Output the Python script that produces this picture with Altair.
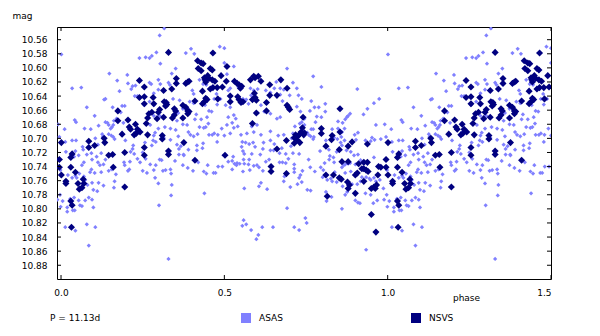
import altair as alt
import pandas as pd

# ---- data (phase in [0, 1); chart shows 1.5 cycles) ----
asas_points = [
(0.001,10.581),(0.034,10.629),(0.062,10.628),(0.240,10.586),(0.148,10.608),(0.203,10.610),(0.172,10.618),(0.205,10.622),(0.179,10.633),(0.219,10.626),
(0.228,10.625),(0.215,10.630),(0.234,10.640),(0.226,10.640),(0.242,10.642),(0.136,10.644),(0.132,10.645),(0.079,10.656),(0.103,10.668),(0.158,10.656),
(0.187,10.654),(0.195,10.654),(0.183,10.663),(0.042,10.674),(0.046,10.677),(0.072,10.686),(0.091,10.687),(0.115,10.682),(0.136,10.677),(0.142,10.678),
(0.146,10.681),(0.162,10.675),(0.160,10.681),(0.156,10.684),(0.152,10.686),(0.170,10.672),(0.011,10.687),(0.013,10.705),(0.034,10.703),(0.046,10.703),
(0.066,10.712),(0.068,10.716),(0.105,10.700),(0.113,10.709),(0.126,10.694),(0.128,10.698),(0.146,10.694),(0.154,10.696),(0.160,10.698),(0.164,10.701),
(0.191,10.678),(0.197,10.703),(0.228,10.691),(0.221,10.710),(0.219,10.715),(0.213,10.719),(0.224,10.722),(0.234,10.729),(0.250,10.720),(0.015,10.719),
(0.044,10.718),(0.040,10.726),(0.054,10.724),(0.070,10.734),(0.064,10.738),(0.079,10.723),(0.093,10.721),(0.095,10.730),(0.109,10.726),(0.113,10.734),
(0.119,10.738),(0.130,10.737),(0.136,10.730),(0.123,10.721),(0.093,10.744),(0.089,10.748),(0.103,10.749),(0.123,10.748),(0.146,10.746),(0.156,10.744),
(0.168,10.751),(0.193,10.734),(0.195,10.738),(0.211,10.733),(0.205,10.746),(0.209,10.744),(0.242,10.734),(0.250,10.746),(0.021,10.752),(0.034,10.756),
(0.044,10.753),(0.048,10.756),(0.056,10.750),(0.070,10.754),(0.074,10.759),(0.081,10.766),(0.095,10.763),(0.099,10.773),(0.111,10.775),(0.115,10.763),
(0.130,10.767),(0.164,10.761),(0.162,10.770),(0.005,10.789),(0.019,10.798),(0.028,10.786),(0.040,10.784),(0.054,10.788),(0.058,10.795),(0.064,10.796),
(0.074,10.788),(0.085,10.784),(0.095,10.787),(0.099,10.798),(0.036,10.802),(0.042,10.802),(0.019,10.804),(0.013,10.826),(0.044,10.831),(0.079,10.822),
(0.105,10.826),(0.085,10.852),
(0.316,10.544),(0.302,10.554),(0.486,10.570),(0.398,10.573),(0.382,10.579),(0.408,10.580),(0.292,10.578),(0.259,10.585),(0.271,10.586),(0.278,10.583),
(0.304,10.594),(0.351,10.601),(0.339,10.608),(0.329,10.621),(0.333,10.624),(0.298,10.617),(0.304,10.623),(0.271,10.621),(0.276,10.623),(0.298,10.631),
(0.284,10.636),(0.343,10.644),(0.363,10.646),(0.402,10.632),(0.406,10.637),(0.424,10.617),(0.435,10.623),(0.445,10.624),(0.469,10.644),(0.476,10.637),
(0.255,10.653),(0.271,10.648),(0.284,10.653),(0.359,10.664),(0.351,10.665),(0.373,10.658),(0.406,10.650),(0.414,10.666),(0.410,10.673),(0.429,10.673),
(0.447,10.670),(0.453,10.661),(0.461,10.662),(0.478,10.652),(0.488,10.644),(0.441,10.653),(0.492,10.686),(0.294,10.672),(0.302,10.668),(0.284,10.668),
(0.273,10.681),(0.259,10.679),(0.288,10.692),(0.298,10.686),(0.284,10.696),(0.318,10.684),(0.335,10.686),(0.351,10.688),(0.355,10.675),(0.373,10.680),
(0.386,10.681),(0.396,10.695),(0.406,10.697),(0.418,10.694),(0.416,10.710),(0.433,10.714),(0.435,10.707),(0.424,10.684),(0.437,10.685),(0.443,10.684),
(0.451,10.679),(0.453,10.695),(0.463,10.695),(0.469,10.693),(0.480,10.695),(0.478,10.705),(0.359,10.697),(0.367,10.711),(0.355,10.709),(0.335,10.702),
(0.314,10.699),(0.290,10.705),(0.282,10.703),(0.290,10.738),(0.288,10.756),(0.298,10.764),(0.259,10.729),(0.263,10.749),(0.284,10.745),(0.320,10.745),
(0.335,10.744),(0.337,10.750),(0.375,10.723),(0.373,10.738),(0.388,10.742),(0.404,10.746),(0.420,10.734),(0.437,10.747),(0.445,10.750),(0.449,10.738),
(0.467,10.749),(0.473,10.749),(0.481,10.740),(0.494,10.740),(0.361,10.723),(0.349,10.732),(0.339,10.766),(0.337,10.781),(0.300,10.795),(0.439,10.778),
(0.329,10.871),(0.273,10.737),(0.361,10.715),(0.390,10.716),(0.416,10.717),(0.376,10.724),(0.302,10.730),(0.308,10.731),(0.278,10.710),(0.312,10.746),
(0.257,10.706),(0.390,10.691),(0.394,10.648),
(0.500,10.572),(0.500,10.593),(0.529,10.598),(0.692,10.601),(0.518,10.629),(0.533,10.619),(0.512,10.632),(0.543,10.627),(0.508,10.609),(0.580,10.629),
(0.590,10.632),(0.602,10.630),(0.627,10.632),(0.641,10.635),(0.653,10.629),(0.659,10.620),(0.671,10.629),(0.682,10.631),(0.710,10.621),(0.722,10.629),
(0.727,10.639),(0.737,10.644),(0.671,10.638),(0.700,10.639),(0.663,10.639),(0.678,10.647),(0.504,10.653),(0.518,10.656),(0.520,10.648),(0.557,10.644),
(0.563,10.647),(0.567,10.645),(0.574,10.651),(0.582,10.639),(0.512,10.670),(0.529,10.667),(0.535,10.672),(0.612,10.653),(0.602,10.664),(0.622,10.662),
(0.641,10.665),(0.661,10.672),(0.671,10.670),(0.722,10.655),(0.733,10.662),(0.745,10.672),(0.508,10.681),(0.524,10.678),(0.529,10.685),(0.518,10.693),
(0.500,10.696),(0.541,10.683),(0.551,10.695),(0.569,10.693),(0.584,10.683),(0.586,10.681),(0.600,10.681),(0.612,10.695),(0.590,10.691),(0.641,10.690),
(0.665,10.696),(0.682,10.695),(0.710,10.693),(0.716,10.683),(0.731,10.679),(0.737,10.677),(0.745,10.681),(0.594,10.712),(0.704,10.711),(0.706,10.700),
(0.555,10.705),(0.565,10.706),(0.588,10.706),(0.620,10.706),(0.641,10.703),(0.653,10.708),(0.553,10.712),(0.576,10.708),(0.557,10.718),(0.561,10.722),
(0.584,10.722),(0.610,10.723),(0.618,10.715),(0.641,10.717),(0.651,10.717),(0.669,10.721),(0.688,10.722),(0.676,10.714),(0.710,10.721),(0.729,10.722),
(0.527,10.726),(0.512,10.733),(0.524,10.732),(0.539,10.735),(0.537,10.738),(0.531,10.736),(0.547,10.736),(0.559,10.730),(0.561,10.736),(0.576,10.730),
(0.574,10.737),(0.578,10.745),(0.590,10.739),(0.600,10.738),(0.606,10.741),(0.618,10.746),(0.627,10.733),(0.637,10.730),(0.669,10.734),(0.678,10.734),
(0.688,10.735),(0.696,10.729),(0.714,10.737),(0.714,10.743),(0.714,10.748),(0.739,10.746),(0.733,10.752),(0.729,10.756),(0.524,10.744),(0.557,10.747),
(0.737,10.762),(0.612,10.763),(0.606,10.768),(0.631,10.772),(0.561,10.771),(0.684,10.754),(0.682,10.761),(0.702,10.769),(0.724,10.765),(0.692,10.799),
(0.559,10.816),(0.567,10.822),(0.555,10.824),(0.582,10.830),(0.616,10.826),(0.649,10.826),(0.604,10.837),(0.598,10.843),(0.714,10.826),(0.729,10.830),
(0.772,10.612),(0.797,10.627),(0.907,10.630),(0.974,10.644),(0.958,10.650),(0.938,10.658),(0.926,10.666),(0.766,10.647),(0.776,10.656),(0.789,10.656),
(0.762,10.661),(0.809,10.651),(0.809,10.662),(0.783,10.669),(0.797,10.670),(0.779,10.677),(0.885,10.665),(0.875,10.670),(0.870,10.673),(0.879,10.668),
(0.848,10.676),(0.862,10.678),(0.991,10.680),(0.964,10.681),(0.868,10.686),(0.772,10.687),(0.766,10.687),(0.754,10.692),(0.758,10.695),(0.764,10.697),
(0.774,10.698),(0.830,10.687),(0.848,10.686),(0.836,10.699),(0.858,10.698),(0.860,10.691),(0.899,10.695),(0.909,10.692),(0.952,10.699),(0.995,10.698),
(0.772,10.701),(0.811,10.703),(0.846,10.701),(0.856,10.706),(0.868,10.703),(0.903,10.702),(0.932,10.703),(0.948,10.704),(0.960,10.702),(0.979,10.701),
(0.793,10.718),(0.820,10.716),(0.823,10.725),(0.834,10.727),(0.821,10.730),(0.836,10.734),(0.844,10.719),(0.850,10.715),(0.860,10.710),(0.874,10.717),
(0.887,10.719),(0.897,10.724),(0.909,10.723),(0.917,10.731),(0.924,10.734),(0.958,10.727),(0.758,10.730),(0.763,10.741),(0.777,10.747),(0.795,10.741),
(0.803,10.745),(0.807,10.735),(0.860,10.741),(0.866,10.738),(0.870,10.737),(0.879,10.736),(0.885,10.735),(0.901,10.737),(0.870,10.749),(0.887,10.747),
(0.838,10.748),(0.848,10.756),(0.826,10.757),(0.815,10.759),(0.801,10.755),(0.809,10.753),(0.830,10.761),(0.844,10.762),(0.862,10.768),(0.891,10.765),
(0.907,10.765),(0.917,10.761),(0.921,10.755),(0.934,10.755),(0.944,10.757),(0.948,10.759),(0.958,10.756),(0.964,10.761),(0.976,10.759),(0.987,10.771),
(0.754,10.773),(0.764,10.774),(0.811,10.776),(0.813,10.789),(0.828,10.783),(0.870,10.780),(0.876,10.776),(0.879,10.772),(0.901,10.788),(0.909,10.791),
(0.915,10.792),(0.932,10.778),(0.948,10.780),(0.956,10.792),(0.968,10.788),(0.989,10.787),(0.860,10.800),(0.748,10.813),(0.752,10.820),(0.934,10.858),
(0.999,10.797),(0.997,10.780),(0.998,10.745),
]

nsvs_points = [
(0.240,10.618),(0.240,10.642),(0.174,10.661),(0.174,10.675),(0.205,10.674),(0.209,10.684),(0.213,10.687),(0.228,10.680),(0.234,10.687),(0.230,10.693),
(0.224,10.695),(0.242,10.691),(0.187,10.694),(0.132,10.700),(0.134,10.706),(0.103,10.710),(0.085,10.704),(0.085,10.713),(0.001,10.706),(0.034,10.722),
(0.030,10.727),(0.030,10.741),(0.044,10.748),(0.001,10.752),(0.015,10.761),(0.015,10.764),(0.068,10.758),(0.070,10.764),(0.064,10.770),(0.052,10.764),
(0.056,10.772),(0.146,10.724),(0.158,10.723),(0.160,10.741),(0.195,10.720),(0.195,10.769),(0.030,10.789),(0.034,10.795),(0.032,10.826),
(0.329,10.578),(0.465,10.579),(0.418,10.590),(0.429,10.593),(0.435,10.594),(0.420,10.601),(0.429,10.604),(0.457,10.601),(0.463,10.603),(0.449,10.611),
(0.439,10.614),(0.453,10.615),(0.463,10.617),(0.471,10.619),(0.443,10.620),(0.441,10.617),(0.490,10.611),(0.494,10.627),(0.478,10.628),(0.465,10.628),
(0.457,10.630),(0.353,10.615),(0.353,10.622),(0.382,10.622),(0.388,10.620),(0.392,10.619),(0.339,10.630),(0.314,10.632),(0.255,10.627),(0.255,10.641),
(0.282,10.642),(0.284,10.651),(0.255,10.651),(0.316,10.648),(0.322,10.649),(0.320,10.654),(0.324,10.652),(0.302,10.659),(0.298,10.663),(0.278,10.663),
(0.294,10.672),(0.269,10.665),(0.265,10.671),(0.261,10.679),(0.265,10.695),(0.314,10.670),(0.347,10.658),(0.351,10.661),(0.347,10.667),(0.341,10.671),
(0.373,10.653),(0.382,10.656),(0.388,10.661),(0.388,10.665),(0.392,10.662),(0.373,10.671),(0.410,10.647),(0.433,10.633),(0.443,10.643),(0.447,10.645),
(0.439,10.648),(0.433,10.651),(0.480,10.644),(0.310,10.696),(0.310,10.701),(0.329,10.718),(0.329,10.723),(0.376,10.706),(0.410,10.731),(0.255,10.713),
(0.255,10.724),
(0.508,10.598),(0.506,10.619),(0.531,10.619),(0.539,10.622),(0.545,10.624),(0.549,10.629),(0.553,10.626),(0.518,10.640),(0.541,10.641),(0.545,10.645),
(0.551,10.649),(0.518,10.648),(0.557,10.648),(0.586,10.645),(0.580,10.617),(0.590,10.612),(0.594,10.614),(0.604,10.612),(0.612,10.619),(0.639,10.624),
(0.673,10.617),(0.692,10.629),(0.639,10.639),(0.629,10.649),(0.629,10.661),(0.598,10.664),(0.598,10.646),(0.592,10.636),(0.594,10.642),(0.661,10.639),
(0.692,10.653),(0.696,10.656),(0.700,10.659),(0.741,10.670),(0.586,10.679),(0.739,10.685),(0.735,10.691),(0.729,10.695),(0.724,10.697),(0.718,10.695),
(0.714,10.699),(0.745,10.692),(0.743,10.695),
(0.502,10.724),(0.643,10.740),(0.643,10.747),(0.661,10.715),(0.690,10.703),(0.690,10.750),(0.714,10.707),(0.731,10.706),(0.722,10.702),
(0.854,10.658),(0.797,10.686),(0.797,10.693),(0.854,10.691),(0.830,10.696),
(0.811,10.711),(0.828,10.702),(0.852,10.716),(0.879,10.711),(0.891,10.705),(0.938,10.708),(0.860,10.733),(0.879,10.733),(0.911,10.736),(0.927,10.734),
(0.938,10.734),(0.811,10.752),(0.834,10.752),(0.852,10.756),(0.858,10.758),(0.877,10.762),(0.883,10.766),(0.879,10.771),(0.901,10.752),(0.907,10.749),
(0.921,10.743),(0.927,10.743),(0.934,10.745),(0.940,10.747),(0.927,10.761),(0.972,10.740),(0.979,10.741),(0.995,10.741),(0.995,10.730),(0.970,10.752),
(0.958,10.769),(0.966,10.766),(0.962,10.771),(0.950,10.771),(0.815,10.782),(0.901,10.778),(0.950,10.808),(0.964,10.833),
]

y_ticks = [10.56, 10.58, 10.60, 10.62, 10.64, 10.66, 10.68, 10.70, 10.72,
           10.74, 10.76, 10.78, 10.80, 10.82, 10.84, 10.86, 10.88]
x_ticks = [0.0, 0.5, 1.0, 1.5]
series_names = ["ASAS", "NSVS"]
series_colors = ["#8080ff", "#000080"]
period_label = "P = 11.13d"

X_DOMAIN = [-0.0123, 1.5]
Y_DOMAIN = [10.542, 10.8995]
W, H = 494, 252
FONT = "DejaVu Sans"

def folded(points, name):
    rows = []
    for p, m in points:
        for shift in (-1, 0, 1):
            q = p + shift
            if X_DOMAIN[0] <= q <= X_DOMAIN[1]:
                rows.append({"phase": q, "mag": m, "series": name})
    return pd.DataFrame(rows)

df_asas = folded(asas_points, series_names[0])
df_nsvs = folded(nsvs_points, series_names[1])

xs = alt.Scale(domain=X_DOMAIN, nice=False, zero=False)
ys = alt.Scale(domain=Y_DOMAIN, nice=False, zero=False, reverse=True)

x_axis = alt.Axis(values=x_ticks, format=".1f", domain=False, ticks=False, grid=False,
                  labelFont=FONT, labelFontSize=9, labelColor="black", labelPadding=9,
                  title="phase", titleFont=FONT, titleFontSize=9, titleFontWeight="normal",
                  titleColor="black", titleX=409, titleY=18, titleBaseline="middle",
                  titleAlign="center")
y_axis = alt.Axis(values=y_ticks, format=".2f", domain=False, ticks=False, grid=False,
                  labelFont=FONT, labelFontSize=9, labelColor="black", labelPadding=10,
                  title="mag", titleFont=FONT, titleFontSize=9, titleFontWeight="normal",
                  titleColor="black", titleAngle=0, titleX=-45, titleY=-12,
                  titleAlign="left", titleBaseline="middle")

X = lambda f: alt.X(f, scale=xs, axis=x_axis, title="phase")
Y = lambda f: alt.Y(f, scale=ys, axis=y_axis, title="mag")

asas_layer = alt.Chart(df_asas).mark_point(
    shape="diamond", filled=True, size=18, opacity=1, clip=True
).encode(x=X("phase:Q"), y=Y("mag:Q"), color=alt.value(series_colors[0]))

nsvs_layer = alt.Chart(df_nsvs).mark_point(
    shape="diamond", filled=True, size=50, opacity=1, clip=True
).encode(x=X("phase:Q"), y=Y("mag:Q"), color=alt.value(series_colors[1]))

ydf = pd.DataFrame({"mag": y_ticks})
xdf = pd.DataFrame({"phase": x_ticks})

left_ticks = alt.Chart(ydf).mark_rule(color="black", strokeWidth=1).encode(
    y=Y("mag:Q"), x=alt.value(0), x2=alt.value(4))
right_ticks = alt.Chart(ydf).mark_rule(color="black", strokeWidth=1).encode(
    y=Y("mag:Q"), x=alt.value(W - 4), x2=alt.value(W))
bottom_ticks = alt.Chart(xdf).mark_rule(color="black", strokeWidth=1).encode(
    x=X("phase:Q"), y=alt.value(H - 4), y2=alt.value(H))
top_ticks = alt.Chart(xdf).mark_rule(color="black", strokeWidth=1).encode(
    x=X("phase:Q"), y=alt.value(0), y2=alt.value(4))

# footer: period text and legend
period_text = alt.Chart(pd.DataFrame({"t": [period_label]})).mark_text(
    font=FONT, fontSize=9, color="black", align="left", baseline="middle"
).encode(text="t:N", x=alt.value(-7), y=alt.value(291))

leg_sq_a = alt.Chart(pd.DataFrame({"n": [series_names[0]]})).mark_square(
    size=100, opacity=1, filled=True, color=series_colors[0]
).encode(x=alt.value(189), y=alt.value(291))
leg_sq_n = alt.Chart(pd.DataFrame({"n": [series_names[1]]})).mark_square(
    size=100, opacity=1, filled=True, color=series_colors[1]
).encode(x=alt.value(359), y=alt.value(291))
leg_tx_a = alt.Chart(pd.DataFrame({"n": [series_names[0]]})).mark_text(
    font=FONT, fontSize=9, color="black", align="left", baseline="middle"
).encode(x=alt.value(202), y=alt.value(291), text="n:N")
leg_tx_n = alt.Chart(pd.DataFrame({"n": [series_names[1]]})).mark_text(
    font=FONT, fontSize=9, color="black", align="left", baseline="middle"
).encode(x=alt.value(372), y=alt.value(291), text="n:N")

chart = alt.layer(
    asas_layer, nsvs_layer, left_ticks, right_ticks, bottom_ticks, top_ticks,
    period_text, leg_sq_a, leg_sq_n, leg_tx_a, leg_tx_n
).properties(
    width=W, height=H,
    padding={"left": 49, "top": 19, "right": 41, "bottom": 49},
    autosize=alt.AutoSizeParams(type="none"),
    background="white",
).configure_view(stroke="black", strokeWidth=1)

chart.save("out.html", embed_options={"renderer": "svg", "actions": False})
